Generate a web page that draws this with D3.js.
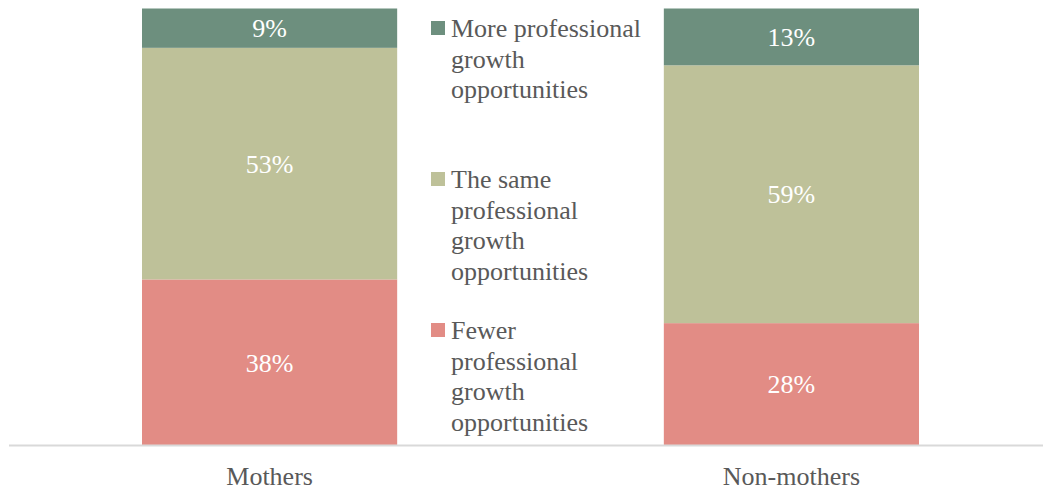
<!DOCTYPE html>
<html><head><meta charset="utf-8">
<script src="https://cdn.jsdelivr.net/npm/d3@7"></script>
<style>body{margin:0;background:#fff}svg{display:block}</style>
</head><body><svg id="c" width="1043" height="492"></svg>
<script>
const categories = ["Mothers", "Non-mothers"];
const seriesNames = ["Fewer", "Same", "More"];
const fewer = [38, 28];
const same = [53, 59];
const more = [9, 13];
const legendLabels = [
  ["More professional", "growth", "opportunities"],
  ["The same", "professional", "growth", "opportunities"],
  ["Fewer", "professional", "growth", "opportunities"]
];
const colors = {Fewer: "#e28c85", Same: "#bec199", More: "#6d8f7e"};

const svg = d3.select("#c");
const fontFam = "Liberation Serif";
const fontSize = "26px";
const rows = categories.map((c, i) => ({cat: c, Fewer: fewer[i], Same: same[i], More: more[i]}));
const stack = d3.stack().keys(seriesNames)(rows);

const x = d3.scaleBand().domain(categories).range([142, 919]).paddingInner(0.511).paddingOuter(0);
const y = d3.scaleLinear().domain([0, 100]).range([445.5, 8.5]);

const g = svg.append("g");
stack.forEach(s => {
  g.selectAll(null).data(s).enter().append("rect")
    .attr("x", d => x(d.data.cat))
    .attr("width", x.bandwidth())
    .attr("y", d => y(d[1]))
    .attr("height", d => y(d[0]) - y(d[1]))
    .attr("fill", colors[s.key]);
  g.selectAll(null).data(s).enter().append("text")
    .attr("x", d => x(d.data.cat) + x.bandwidth() / 2)
    .attr("y", d => (y(d[0]) + y(d[1])) / 2)
    .attr("dy", "0.35em")
    .attr("text-anchor", "middle")
    .attr("fill", "#fff")
    .style("font-family", fontFam).style("font-size", fontSize)
    .text(d => (d[1] - d[0]) + "%");
});

// axis
const ax = svg.append("g").attr("transform", "translate(0,445.5)")
  .call(d3.axisBottom(x).tickSize(0).tickPadding(21));
ax.attr("font-family", null).attr("font-size", null);
ax.select(".domain").remove();
ax.append("line").attr("x1", 9).attr("x2", 1043).attr("y1", 0).attr("y2", 0)
  .attr("stroke", "#d9d9d9").attr("stroke-width", 2);
ax.selectAll(".tick text").attr("fill", "#595959")
  .style("font-family", fontFam).style("font-size", fontSize);

// legend
const legendKeys = ["More", "Same", "Fewer"];
const legendTops = [28, 179, 330];
legendKeys.forEach((k, i) => {
  const lg = svg.append("g");
  lg.append("rect").attr("x", 431).attr("y", legendTops[i] - 7).attr("width", 14).attr("height", 14)
    .attr("fill", colors[k]);
  legendLabels[i].forEach((t, j) => {
    lg.append("text").attr("x", 451).attr("y", legendTops[i] + j * 30.5)
      .attr("dy", "0.35em").attr("fill", "#595959")
      .style("font-family", fontFam).style("font-size", fontSize).text(t);
  });
});
</script></body></html>
